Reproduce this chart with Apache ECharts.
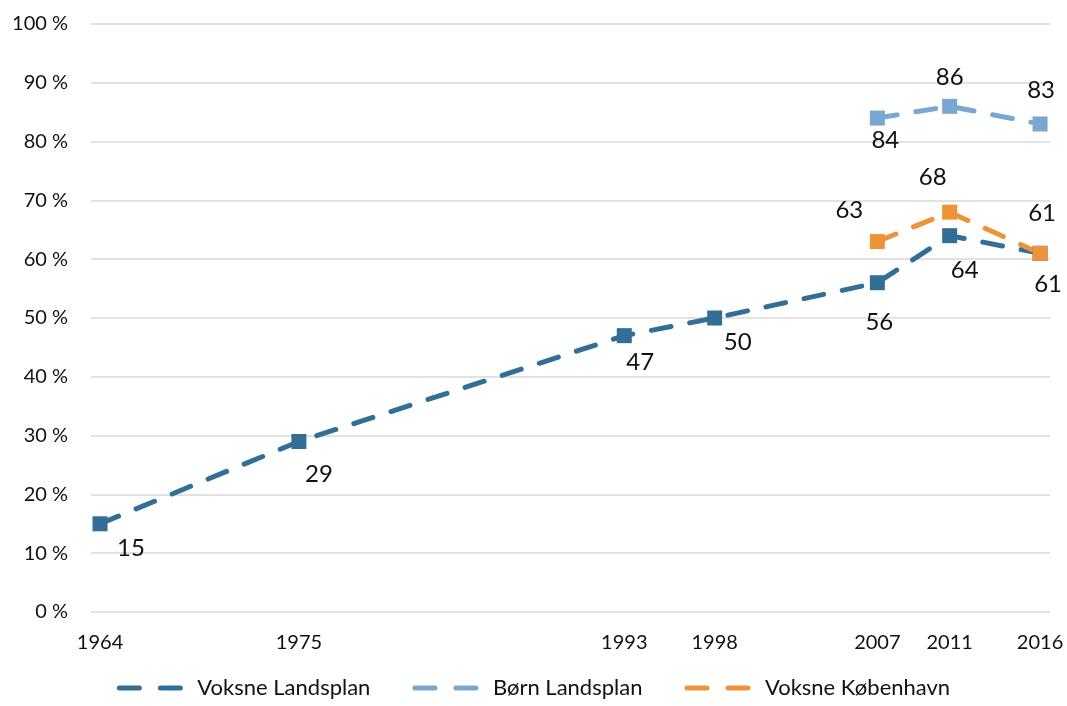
<!DOCTYPE html>
<html><head><meta charset="utf-8">
<script src="https://cdn.jsdelivr.net/npm/echarts@6/dist/echarts.min.js"></script>
<style>html,body{margin:0;padding:0;background:#fff}#c{width:1067px;height:706px}</style>
</head><body><div id="c"></div>
<script>
var years = [1964, 1975, 1993, 1998, 2007, 2011, 2016];
var voksneLandsplan = [15, 29, 47, 50, 56, 64, 61];
var bornYears = [2007, 2011, 2016];
var bornLandsplan = [84, 86, 83];
var kbhYears = [2007, 2011, 2016];
var voksneKobenhavn = [63, 68, 61];
var seriesNames = ['Voksne Landsplan', 'Børn Landsplan', 'Voksne København'];

var vlOffsets = [[31,24],[20,33],[16,27],[23,24],[2,40],[15,35],[8,31]];
var blOffsets = [[8,22],[0,-29],[1,-34]];
var kbOffsets = [[-28,-31],[-17,-35],[2,-40]];
var colors = ['#336e96', '#7aa6d2', '#ef9338'];
var FONT = 'Lato';

function build(xs, ys, offs) {
  return xs.map(function (x, i) {
    return { value: [x, ys[i]], label: { offset: offs[i] } };
  });
}
function mk(name, data, color) {
  return {
    name: name, type: 'line', data: data,
    symbol: 'rect', symbolSize: 15,
    itemStyle: { color: color },
    lineStyle: { color: color, width: 5, type: [20, 19], cap: 'round' },
    label: { show: true, position: 'inside', color: '#111', fontSize: 24, fontFamily: FONT,
      formatter: function (p) { return p.value[1]; } },
    emphasis: { disabled: true },
    animation: false
  };
}
var chart = echarts.init(document.getElementById('c'));
chart.setOption({
  animation: false,
  color: colors,
  grid: { left: 91, right: 17, top: 24, bottom: 94, containLabel: false },
  xAxis: {
    type: 'value', min: 1963.5, max: 2016.55,
    axisLine: { show: false }, axisTick: { show: false },
    splitLine: { show: false },
    axisLabel: { customValues: years, color: '#111', fontSize: 20, fontFamily: FONT, margin: 21,
      formatter: function (v) { return String(v); } }
  },
  yAxis: {
    type: 'value', min: 0, max: 100, interval: 10,
    axisLine: { show: false }, axisTick: { show: false },
    splitLine: { lineStyle: { color: '#d9d9d9', width: 1.5 } },
    axisLabel: { color: '#111', fontSize: 20, fontFamily: FONT, margin: 23, formatter: '{value} %' }
  },
  legend: {
    bottom: 2, left: 'center', itemWidth: 63, itemHeight: 14, itemGap: 42,
    textStyle: { color: '#111', fontSize: 22, fontFamily: FONT, padding: [0, 0, 0, 10] },
    itemStyle: { opacity: 0 },
    lineStyle: { width: 5, cap: 'round', type: [20, 21] },
    data: seriesNames
  },
  series: [
    mk(seriesNames[0], build(years, voksneLandsplan, vlOffsets), colors[0]),
    mk(seriesNames[1], build(bornYears, bornLandsplan, blOffsets), colors[1]),
    mk(seriesNames[2], build(kbhYears, voksneKobenhavn, kbOffsets), colors[2])
  ]
});
</script></body></html>
